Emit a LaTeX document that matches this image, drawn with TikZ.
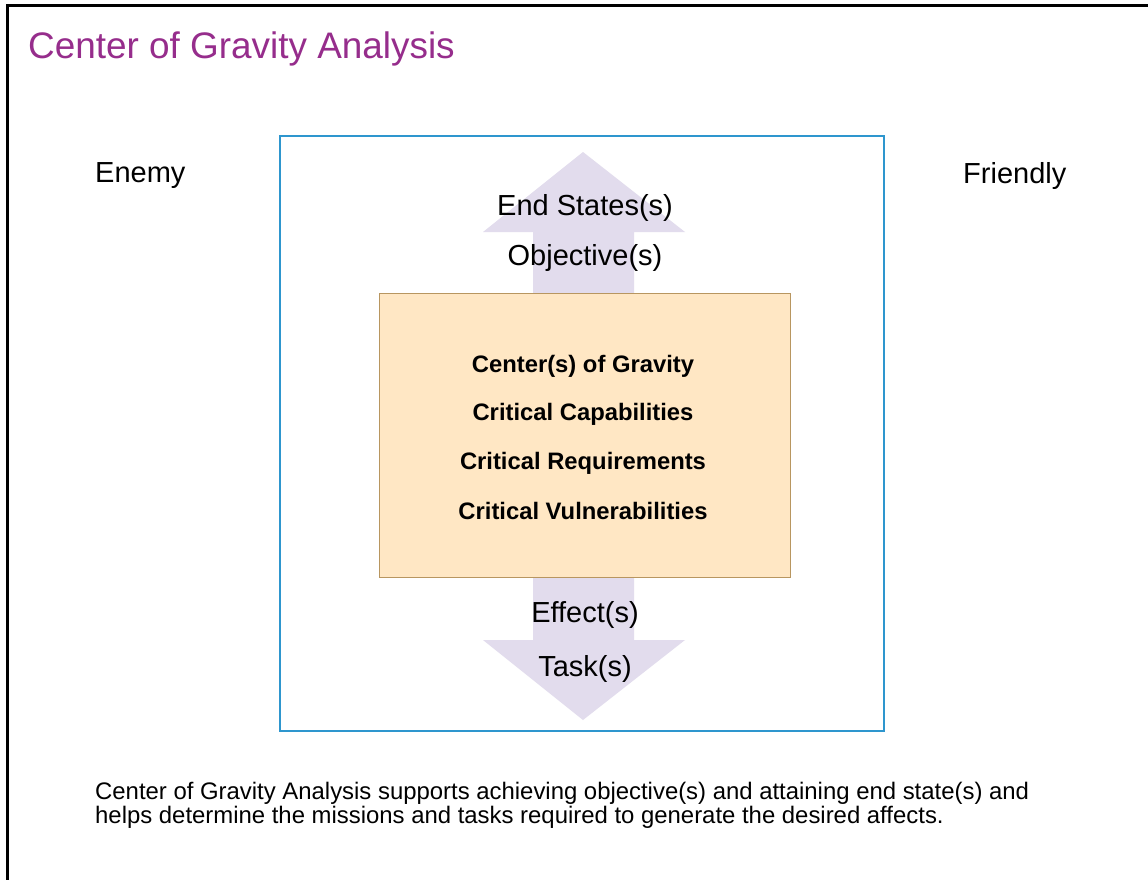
\documentclass[tikz,border=0pt]{standalone}
\usepackage{fontspec}
\setmainfont{Liberation Sans}
\definecolor{titlepurple}{RGB}{150,45,140}
\definecolor{arrowlav}{RGB}{226,220,237}
\definecolor{boxfill}{RGB}{255,231,196}
\definecolor{boxline}{RGB}{184,150,96}
\definecolor{frameblue}{RGB}{46,150,206}
\begin{document}
\begin{tikzpicture}[x=1pt,y=-1pt,
  plain/.style={inner sep=0pt, font=\fontsize{29}{34}\selectfont},
  bold/.style={inner sep=0pt, font=\fontsize{23.8}{28}\selectfont\bfseries},
  note/.style={inner sep=0pt, anchor=base west, font=\fontsize{23.9}{25}\selectfont},
  lavarrow/.style={fill=arrowlav, draw=none}]
\useasboundingbox (0,0) rectangle (1148,880);
\fill[white] (0,0) rectangle (1148,880);
% page frame (top and left)
\draw[line width=3pt, line cap=rect] (7,880) -- (7,6) -- (1148,6);
% title
\node[inner sep=0pt, anchor=west, text=titlepurple, font=\fontsize{36.9}{40}\selectfont] (title) at (28,49) {Center of Gravity Analysis};
% side labels
\node[plain, anchor=west] (enemy) at (95,176) {Enemy};
\node[plain, anchor=west] (friendly) at (963,176) {Friendly};
% blue frame
\node[draw=frameblue, line width=2.4pt, minimum width=604pt, minimum height=595pt, inner sep=0pt] (frame) at (582,433.5) {};
% arrows
\fill[lavarrow] (533,294) -- (533,232) -- (483,232) -- (583,152) -- (685,232) -- (634,232) -- (634,294) -- cycle;
\fill[lavarrow] (533,576) -- (533,640) -- (483,640) -- (583,720) -- (685,640) -- (634,640) -- (634,576) -- cycle;
% central box
\node[draw=boxline, fill=boxfill, line width=1pt, minimum width=411pt, minimum height=284pt, inner sep=0pt] (core) at (584.5,435) {};
\node[bold] (cog) at (583,366) {Center(s) of Gravity};
\node[bold] (cc) at (583,414) {Critical Capabilities};
\node[bold] (cr) at (583,463) {Critical Requirements};
\node[bold] (cv) at (583,511) {Critical Vulnerabilities};
% arrow texts
\node[plain] (end) at (585,208) {End States(s)};
\node[plain] (obj) at (585,258) {Objective(s)};
\node[plain] (eff) at (585,615) {Effect(s)};
\node[plain] (task) at (585,669) {Task(s)};
% bottom text
\node[note] (note1) at (95,799) {Center of Gravity Analysis supports achieving objective(s) and attaining end state(s) and};
\node[note] (note2) at (95,823) {helps determine the missions and tasks required to generate the desired affects.};
\end{tikzpicture}
\end{document}
